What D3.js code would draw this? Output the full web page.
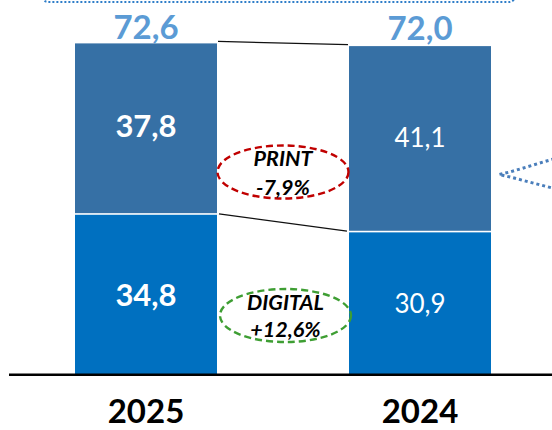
<!DOCTYPE html>
<html><head><meta charset="utf-8">
<script src="https://cdn.jsdelivr.net/npm/d3@7"></script>
<style>html,body{margin:0;padding:0;background:#fff;}svg{display:block;}</style>
</head><body>
<script>
const years = ["2025", "2024"];
const printValues = [37.8, 41.1];
const digitalValues = [34.8, 30.9];
const totalLabels = ["72,6", "72,0"];
const printLabels = ["37,8", "41,1"];
const digitalLabels = ["34,8", "30,9"];
const changeNames = ["PRINT", "DIGITAL"];
const changeLabels = ["-7,9%", "+12,6%"];

const W = 552, H = 430;
const FONT = "Lato, 'Open Sans', sans-serif";
const svg = d3.select("body").append("svg").attr("width", W).attr("height", H);

const x = d3.scaleBand().domain(years).range([75, 491]).paddingInner(132 / 274).paddingOuter(0);
const y = d3.scaleLinear().domain([0, 72.6]).range([371, 43.4]);
const bw = x.bandwidth();
const printColor = "#3670A5", digitalColor = "#0070C0";

// top dotted box (cropped)
svg.append("rect").attr("x", 42).attr("y", -40).attr("width", 473).attr("height", 42)
  .attr("rx", 6).attr("fill", "none").attr("stroke", "#2E7DC8").attr("stroke-width", 2)
  .attr("stroke-dasharray", "2,2");

const data = years.map((yr, i) => ({yr, p: printValues[i], d: digitalValues[i], t: printValues[i] + digitalValues[i], i}));

// digital segments
svg.selectAll("rect.dig").data(data).join("rect").attr("class", "dig")
  .attr("x", d => x(d.yr)).attr("width", bw)
  .attr("y", d => y(d.d) + 0.8).attr("height", d => y(0) - y(d.d) + 3)
  .attr("fill", digitalColor);
// print segments
svg.selectAll("rect.prt").data(data).join("rect").attr("class", "prt")
  .attr("x", d => x(d.yr)).attr("width", bw)
  .attr("y", d => y(d.t)).attr("height", d => y(d.d) - y(d.t) - 0.8)
  .attr("fill", printColor);

// connector lines
const a = data[0], b = data[1];
svg.append("line").attr("x1", x(a.yr) + bw + 1).attr("y1", y(a.t) - 2).attr("x2", x(b.yr) - 1).attr("y2", y(b.t) - 1.5)
  .attr("stroke", "#111").attr("stroke-width", 1.2);
svg.append("line").attr("x1", x(a.yr) + bw + 2).attr("y1", y(a.d)).attr("x2", x(b.yr) - 2).attr("y2", y(b.d) - 0.5)
  .attr("stroke", "#111").attr("stroke-width", 1.2);

// axis line
svg.append("line").attr("x1", 9).attr("x2", W).attr("y1", 374.8).attr("y2", 374.8)
  .attr("stroke", "#000").attr("stroke-width", 2.6);

// total labels
svg.selectAll("text.tot").data(data).join("text").attr("class", "tot")
  .attr("x", d => x(d.yr) + bw / 2).attr("y", (d, i) => i === 0 ? 38.5 : 39.5)
  .attr("text-anchor", "middle").attr("font-family", FONT).attr("font-weight", 700)
  .attr("font-size", 33).attr("fill", "#5B9BD5").text((d, i) => totalLabels[i]);

// segment labels
svg.selectAll("text.pl").data(data).join("text").attr("class", "pl")
  .attr("x", d => x(d.yr) + bw / 2).attr("y", (d, i) => i === 0 ? 137 : 147)
  .attr("text-anchor", "middle").attr("font-family", FONT)
  .attr("font-weight", (d, i) => i === 0 ? 700 : 400)
  .attr("font-size", (d, i) => i === 0 ? 31 : 26).attr("fill", "#fff").text((d, i) => printLabels[i]);
svg.selectAll("text.dl").data(data).join("text").attr("class", "dl")
  .attr("x", d => x(d.yr) + bw / 2).attr("y", (d, i) => i === 0 ? 306 : 313)
  .attr("text-anchor", "middle").attr("font-family", FONT)
  .attr("font-weight", (d, i) => i === 0 ? 700 : 400)
  .attr("font-size", (d, i) => i === 0 ? 31 : 26).attr("fill", "#fff").text((d, i) => digitalLabels[i]);

// year labels
svg.selectAll("text.yr").data(years).join("text").attr("class", "yr")
  .attr("x", d => x(d) + bw / 2).attr("y", 423)
  .attr("text-anchor", "middle").attr("font-family", FONT).attr("font-weight", 700)
  .attr("font-size", 33).attr("fill", "#000").text(d => d);

// change ellipses
const ell = [
  {cx: 283, cy: 172, color: "#C00000", t1: 166, t2: 195},
  {cx: 285.5, cy: 315.5, color: "#3E9E33", t1: 310, t2: 337}
];
ell.forEach((e, i) => {
  svg.append("ellipse").attr("cx", e.cx).attr("cy", e.cy).attr("rx", 65.5).attr("ry", 26.5)
    .attr("fill", "none").attr("stroke", e.color).attr("stroke-width", 2.4).attr("stroke-dasharray", "7,4");
  svg.append("text").attr("x", e.cx).attr("y", e.t1).attr("text-anchor", "middle")
    .attr("font-family", FONT).attr("font-weight", 700).attr("font-style", "italic")
    .attr("font-size", 21.5).attr("fill", "#000").text(changeNames[i]);
  svg.append("text").attr("x", e.cx).attr("y", e.t2).attr("text-anchor", "middle")
    .attr("font-family", FONT).attr("font-weight", 700).attr("font-style", "italic")
    .attr("font-size", 21.5).attr("fill", "#000").text(changeLabels[i]);
});

// dotted arrow on the right
const arrow = d3.line()([[560, 157], [510, 172], [499, 174.5], [510, 177], [560, 190]]);
svg.append("path").attr("d", arrow).attr("fill", "none").attr("stroke", "#4A7EBB")
  .attr("stroke-width", 3).attr("stroke-dasharray", "3,3");
</script>
</body></html>
